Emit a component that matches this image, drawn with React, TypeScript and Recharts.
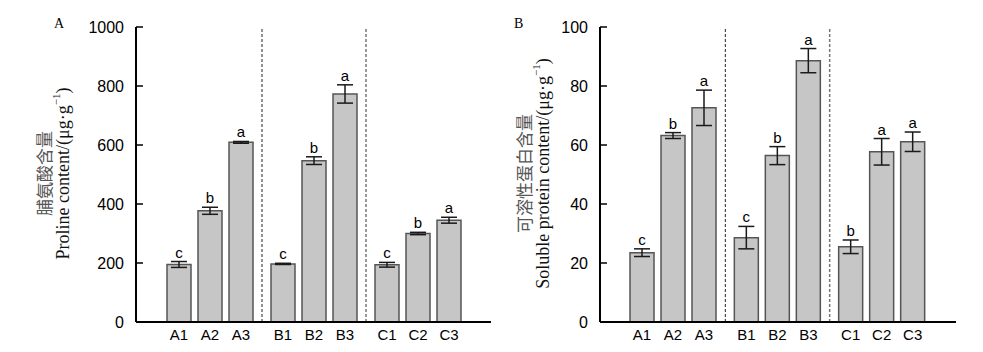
import React from 'react';
import { BarChart, Bar, XAxis, YAxis, ErrorBar, LabelList, ReferenceLine, Label } from 'recharts';

const groups = ['A', 'B', 'C'];
const levels = ['1', '2', '3'];

const prolineValues = [
  [195, 377, 609],
  [197, 547, 773],
  [194, 300, 345],
];
const prolineErrors = [
  [10, 12, 3],
  [2, 13, 31],
  [8, 4, 10],
];
const prolineLetters = [
  ['c', 'b', 'a'],
  ['c', 'b', 'a'],
  ['c', 'b', 'a'],
];
const prolineTicks = [0, 200, 400, 600, 800, 1000];

const proteinValues = [
  [23.5, 63.2, 72.6],
  [28.6, 56.4, 88.6],
  [25.5, 57.7, 61.1],
];
const proteinErrors = [
  [1.3, 1.0, 6.0],
  [3.8, 3.05, 4.1],
  [2.3, 4.5, 3.3],
];
const proteinLetters = [
  ['c', 'b', 'a'],
  ['c', 'b', 'a'],
  ['b', 'a', 'a'],
];
const proteinTicks = [0, 20, 40, 60, 80, 100];

function buildRows(values: number[][], errors: number[][], letters: string[][]) {
  return groups.map((g, gi) => {
    const row: any = { group: g };
    levels.forEach((l, li) => {
      row['v' + li] = values[gi][li];
      row['e' + li] = errors[gi][li];
      row['t' + li] = letters[gi][li];
      row['n' + li] = g + l;
    });
    return row;
  });
}

const SANS = "'Liberation Sans', Arial, sans-serif";
const SERIF = "'Liberation Serif', 'Times New Roman', serif";

const AxisTitle = (props: any) => {
  const { viewBox, cn, en, dCn, dEn } = props;
  const { x, y, width, height } = viewBox;
  const cy = y + height / 2 - 1;
  const xc = x + width - dCn;
  const xe = x + width - dEn;
  return (
    <g>
      <text
        transform={`translate(${xc},${cy}) rotate(-90)`}
        textAnchor="middle"
        dominantBaseline="central"
        fontFamily="'Noto Sans CJK SC', sans-serif"
        fontSize={17}
        fill="#555"
      >
        {cn}
      </text>
      <text
        transform={`translate(${xe},${cy}) rotate(-90)`}
        textAnchor="middle"
        dominantBaseline="central"
        fontFamily={SERIF}
        fontSize={18}
        fill="#111"
      >
        {en}
        <tspan fontSize={11} dy={-7}>−1</tspan>
        <tspan dy={7}>)</tspan>
      </text>
    </g>
  );
};

type PanelProps = {
  rows: any[];
  ticks: number[];
  max: number;
  width: number;
  yWidth: number;
  marginRight: number;
  pad: { left: number; right: number };
  cn: string;
  en: string;
  dCn: number;
  dEn: number;
};

const Panel = ({ rows, ticks, max, width, yWidth, marginRight, pad, cn, en, dCn, dEn }: PanelProps) => (
  <BarChart
    width={width}
    height={352}
    data={rows}
    margin={{ top: 27, right: marginRight, bottom: 0, left: 0 }}
    barGap={7}
  >
    <XAxis
      dataKey="group"
      height={30}
      tick={false}
      tickLine={false}
      padding={pad}
      axisLine={{ stroke: '#000', strokeWidth: 2 }}
    />
    <XAxis
      xAxisId="top"
      orientation="top"
      dataKey="group"
      height={0}
      tick={false}
      tickLine={false}
      axisLine={{ stroke: '#000', strokeWidth: 1.5 }}
    />
    <YAxis
      domain={[0, max]}
      ticks={ticks}
      width={yWidth}
      tickSize={-7}
      tickMargin={19}
      allowDataOverflow
      axisLine={{ stroke: '#000', strokeWidth: 2 }}
      tickLine={{ stroke: '#000', strokeWidth: 1.5 }}
      tick={{ fill: '#000', fontSize: 16, fontFamily: SANS }}
    >
      <Label content={(p: any) => <AxisTitle {...p} cn={cn} en={en} dCn={dCn} dEn={dEn} />} />
    </YAxis>
    <YAxis
      yAxisId="right"
      orientation="right"
      width={0}
      domain={[0, max]}
      tick={false}
      tickLine={false}
      axisLine={{ stroke: '#000', strokeWidth: 1.5 }}
    />
    <ReferenceLine x="B" position="start" stroke="#222" strokeDasharray="3 2" strokeWidth={1} />
    <ReferenceLine x="C" position="start" stroke="#777" strokeDasharray="3 2" strokeWidth={1.5} />
    {levels.map((l, li) => [
      <Bar
        key={'b' + li}
        dataKey={'v' + li}
        stackId={'s' + li}
        barSize={24}
        fill="#c6c6c6"
        stroke="#555"
        strokeWidth={1.5}
        isAnimationActive={false}
      >
        <ErrorBar dataKey={'e' + li} width={8} stroke="#1a1a1a" strokeWidth={1.5} direction="y" />
        <LabelList
          dataKey={'n' + li}
          position="bottom"
          offset={7}
          fill="#000"
          fontSize={15}
          fontFamily={SANS}
        />
      </Bar>,
      <Bar
        key={'t' + li}
        dataKey={'e' + li}
        stackId={'s' + li}
        barSize={24}
        fill="transparent"
        stroke="none"
        isAnimationActive={false}
      >
        <LabelList
          dataKey={'t' + li}
          position="top"
          offset={4}
          fill="#000"
          fontSize={15}
          fontFamily={SANS}
        />
      </Bar>,
    ])}
  </BarChart>
);

export default function App() {
  const rows1 = buildRows(prolineValues, prolineErrors, prolineLetters);
  const rows2 = buildRows(proteinValues, proteinErrors, proteinLetters);
  return (
    <div style={{ position: 'absolute', left: 0, top: 0, width: 983, height: 352, background: '#fff' }}>
      <div style={{ position: 'absolute', left: 0, top: 0 }}>
        <Panel
          rows={rows1}
          ticks={prolineTicks}
          max={1000}
          width={495}
          yWidth={136}
          marginRight={4}
          pad={{ left: 22, right: 21 }}
          cn="脯氨酸含量"
          en="Proline content/(μg·g"
          dCn={93}
          dEn={73}
        />
      </div>
      <div style={{ position: 'absolute', left: 495, top: 0 }}>
        <Panel
          rows={rows2}
          ticks={proteinTicks}
          max={100}
          width={488}
          yWidth={105}
          marginRight={27}
          pad={{ left: 21, right: 22 }}
          cn="可溶性蛋白含量"
          en="Soluble protein content/(μg·g"
          dCn={77}
          dEn={57}
        />
      </div>
      <div style={{ position: 'absolute', left: 54, top: 16, fontFamily: SERIF, fontSize: 14 }}>A</div>
      <div style={{ position: 'absolute', left: 514, top: 16, fontFamily: SERIF, fontSize: 14 }}>B</div>
    </div>
  );
}
